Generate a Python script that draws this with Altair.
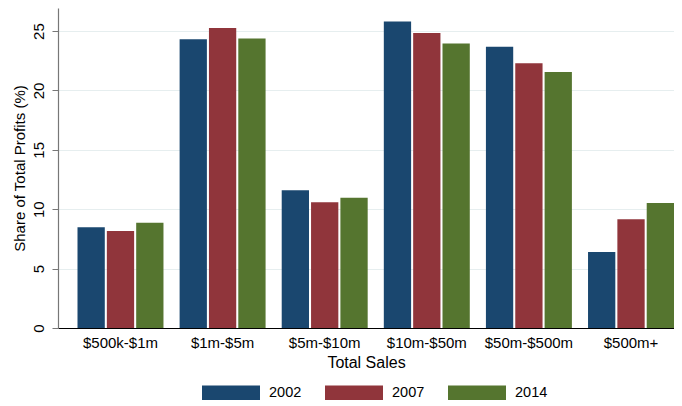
import altair as alt
import pandas as pd

categories = ["$500k-$1m", "$1m-$5m", "$5m-$10m", "$10m-$50m", "$50m-$500m", "$500m+"]
years = ["2002", "2007", "2014"]
share_2002 = [8.48, 24.3, 11.6, 25.8, 23.68, 6.4]
share_2007 = [8.16, 25.25, 10.58, 24.83, 22.28, 9.15]
share_2014 = [8.86, 24.38, 10.97, 23.96, 21.55, 10.52]
colors = ["#1a476f", "#90353b", "#55752f"]

rows = []
for yr, vals in zip(years, [share_2002, share_2007, share_2014]):
    for c, v in zip(categories, vals):
        rows.append({"cat": c, "year": yr, "share": v})
df = pd.DataFrame(rows)

FONT = "Liberation Sans"

chart = alt.Chart(df).mark_bar().encode(
    x=alt.X(
        "cat:N",
        sort=categories,
        scale=alt.Scale(paddingInner=0.158, paddingOuter=0.0955, align=1),
        axis=alt.Axis(
            title="Total Sales",
            ticks=False,
            tickSize=0,
            labelAngle=0,
            labelFontSize=15,
            labelPadding=7,
            labelColor="#000",
            titleFontSize=16,
            titleFontWeight="normal",
            titleColor="#000",
            titlePadding=4,
            domainColor="#000",
            domainWidth=1.2,
        ),
    ),
    xOffset=alt.XOffset("year:N", sort=years, scale=alt.Scale(paddingInner=0.07)),
    y=alt.Y(
        "share:Q",
        scale=alt.Scale(domain=[0, 26.94], nice=False),
        axis=alt.Axis(
            title="Share of Total Profits (%)",
            values=[0, 5, 10, 15, 20, 25],
            labelAngle=270,
            labelAlign="center",
            labelBaseline="bottom",
            labelFontSize=15,
            labelPadding=6,
            labelColor="#000",
            tickSize=6,
            tickColor="#777",
            domainColor="#777",
            domainWidth=1.2,
            grid=True,
            gridColor="#e6eeef",
            gridWidth=1.2,
            titleFontSize=15,
            titleFontWeight="normal",
            titleColor="#000",
            titlePadding=4,
        ),
    ),
    color=alt.Color(
        "year:N",
        sort=years,
        scale=alt.Scale(domain=years, range=colors),
        legend=alt.Legend(
            title=None,
            orient="none",
            legendX=144,
            legendY=356,
            direction="horizontal",
            symbolType="M-1,-0.276H1V0.276H-1Z",
            symbolSize=3364,
            symbolStrokeWidth=0,
            symbolOpacity=1,
            labelFontSize=14.5,
            labelOffset=9,
            columnPadding=23,
            labelColor="#000",
            labelBaseline="middle",
        ),
    ),
).properties(
    width=616,
    height=320,
    autosize=alt.AutoSizeParams(type="none"),
    padding={"left": 50, "top": 0, "right": 0, "bottom": 72},
).configure(font=FONT).configure_view(stroke=None)

chart.save("out.html", embed_options={"renderer": "svg", "actions": False})
